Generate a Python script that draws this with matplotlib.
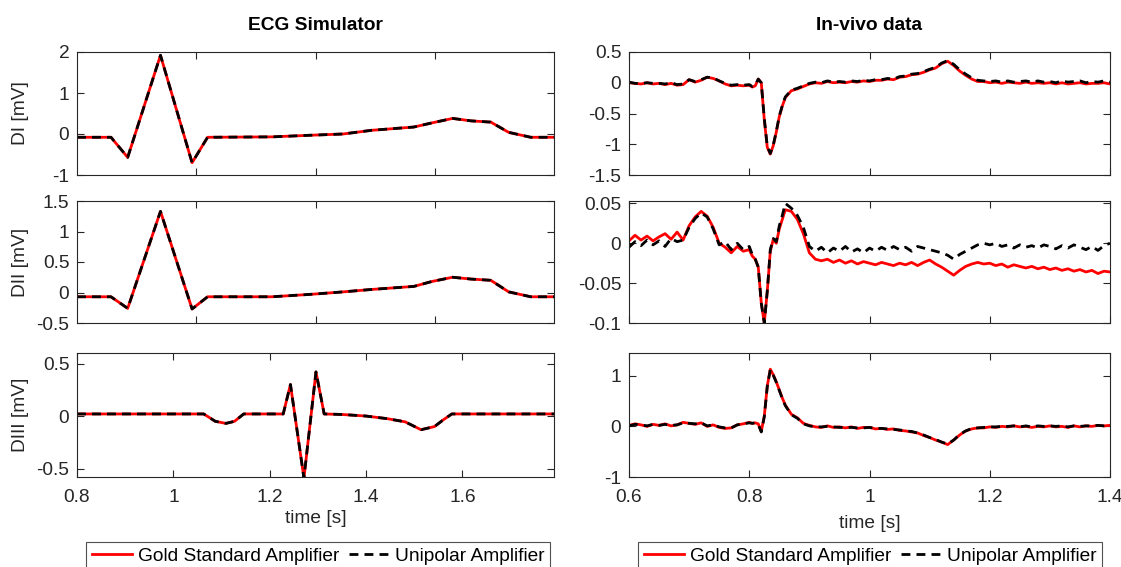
import matplotlib
matplotlib.use('Agg')
import matplotlib.pyplot as plt

plt.rcParams['font.family'] = ['Liberation Sans', 'DejaVu Sans']
plt.rcParams['axes.unicode_minus'] = False

# ---------------- ECG simulator (both amplifiers overlap) ----------------
SIM_T_TOP = [0.600, 0.657, 0.685, 0.740, 0.793, 0.819, 0.927, 0.992, 1.046,
             1.094, 1.165, 1.195, 1.230, 1.261, 1.294, 1.324, 1.361, 1.400]
SIM_DI = [-0.08, -0.08, -0.57, 1.92, -0.70, -0.08, -0.07, -0.03, 0.00,
          0.09, 0.17, 0.27, 0.38, 0.32, 0.29, 0.04, -0.08, -0.08]
SIM_DII = [-0.07, -0.07, -0.26, 1.33, -0.27, -0.07, -0.07, -0.03, 0.01,
           0.05, 0.10, 0.18, 0.25, 0.22, 0.20, 0.01, -0.07, -0.07]
SIM_T_III = [0.800, 1.063, 1.087, 1.109, 1.127, 1.146, 1.228, 1.243, 1.271,
             1.296, 1.313, 1.350, 1.400, 1.444, 1.481, 1.514, 1.542, 1.559,
             1.578, 1.795]
SIM_DIII = [0.02, 0.02, -0.05, -0.07, -0.05, 0.02, 0.02, 0.30, -0.59,
            0.42, 0.02, 0.015, 0.00, -0.025, -0.055, -0.13, -0.10, -0.04,
            0.02, 0.02]

# ---------------- In-vivo data ----------------
T_VIVO = [0.60, 0.61, 0.62, 0.63, 0.64, 0.65, 0.66, 0.67, 0.68, 0.69,
          0.70, 0.71, 0.72, 0.73, 0.74, 0.75, 0.76, 0.77, 0.78, 0.79, 0.80,
          0.805, 0.81, 0.815, 0.82, 0.825, 0.83, 0.835, 0.84, 0.845, 0.85, 0.855, 0.86,
          0.87, 0.88, 0.89, 0.90, 0.91, 0.92, 0.93, 0.94, 0.95, 0.96,
          0.97, 0.98, 0.99, 1.00, 1.01, 1.02, 1.03, 1.04, 1.05, 1.06,
          1.07, 1.08, 1.09, 1.10, 1.11, 1.12, 1.13, 1.14, 1.15, 1.16,
          1.17, 1.18, 1.19, 1.20, 1.21, 1.22, 1.23, 1.24, 1.25, 1.26,
          1.27, 1.28, 1.29, 1.30, 1.31, 1.32, 1.33, 1.34, 1.35, 1.36,
          1.37, 1.38, 1.39, 1.40]

VIVO_DI_GOLD = [0.00, -0.01, -0.02, 0.00, -0.02, -0.01, -0.03, -0.01, -0.04, -0.03,
                0.05, 0.01, 0.04, 0.09, 0.07, 0.03, -0.02, -0.05, -0.04, -0.05, -0.04,
                -0.07, -0.05, 0.06, 0.00, -0.60, -1.05, -1.16, -1.02, -0.80, -0.55, -0.38, -0.24,
                -0.13, -0.10, -0.06, -0.02, 0.00, -0.01, 0.02, 0.00, 0.01, 0.00,
                0.02, 0.01, 0.03, 0.02, 0.04, 0.04, 0.06, 0.05, 0.09, 0.10,
                0.13, 0.14, 0.17, 0.21, 0.24, 0.31, 0.35, 0.28, 0.19, 0.12,
                0.06, 0.02, 0.02, 0.00, 0.01, -0.01, 0.01, 0.00, -0.01, 0.01,
                -0.01, 0.00, -0.01, 0.00, -0.02, 0.00, -0.02, -0.01, 0.00, -0.02,
                -0.01, -0.01, 0.00, -0.02]
VIVO_DI_UNI = [0.01, -0.01, -0.01, 0.00, -0.01, -0.01, -0.02, 0.00, -0.03, -0.02,
               0.05, 0.02, 0.05, 0.09, 0.08, 0.03, -0.01, -0.04, -0.03, -0.04, -0.03,
               -0.06, -0.04, 0.06, 0.00, -0.58, -1.04, -1.15, -1.01, -0.79, -0.54, -0.37, -0.23,
               -0.12, -0.09, -0.05, -0.01, 0.01, 0.00, 0.03, 0.01, 0.02, 0.01,
               0.03, 0.02, 0.04, 0.03, 0.05, 0.05, 0.07, 0.06, 0.10, 0.11,
               0.14, 0.15, 0.18, 0.22, 0.25, 0.32, 0.36, 0.30, 0.21, 0.14,
               0.08, 0.04, 0.03, 0.02, 0.03, 0.01, 0.03, 0.01, 0.02, 0.03,
               0.01, 0.03, 0.01, 0.02, 0.00, 0.03, 0.01, 0.02, 0.03, 0.00,
               0.02, 0.01, 0.03, 0.01]

VIVO_DII_GOLD = [0.003, 0.010, 0.004, 0.009, 0.003, 0.008, 0.012, 0.005, 0.014, 0.004,
                 0.022, 0.033, 0.040, 0.034, 0.020, 0.000, -0.005, -0.012, -0.004, -0.010, -0.008,
                 -0.016, -0.020, -0.030, -0.075, -0.100, -0.060, -0.010, 0.005, 0.000, 0.018, 0.030, 0.042,
                 0.040, 0.030, 0.012, -0.012, -0.020, -0.022, -0.020, -0.024, -0.021, -0.025,
                 -0.022, -0.026, -0.023, -0.025, -0.027, -0.024, -0.026, -0.028, -0.025, -0.027,
                 -0.024, -0.028, -0.024, -0.021, -0.026, -0.030, -0.035, -0.040, -0.034, -0.029,
                 -0.026, -0.024, -0.026, -0.025, -0.028, -0.026, -0.030, -0.027, -0.029, -0.031,
                 -0.029, -0.032, -0.030, -0.033, -0.031, -0.034, -0.032, -0.035, -0.033, -0.036,
                 -0.034, -0.038, -0.035, -0.036]
VIVO_DII_UNI = [-0.005, 0.002, -0.003, 0.004, -0.002, 0.003, -0.004, 0.006, 0.002, 0.004,
                0.020, 0.031, 0.038, 0.033, 0.018, -0.002, 0.002, -0.008, 0.000, -0.008, -0.004,
                -0.014, -0.020, -0.030, -0.075, -0.100, -0.060, -0.008, 0.006, 0.002, 0.022, 0.035, 0.050,
                0.044, 0.035, 0.020, -0.004, -0.010, -0.005, -0.012, -0.006, -0.010, -0.004,
                -0.011, -0.007, -0.012, -0.006, -0.010, -0.005, -0.009, -0.004, -0.008, -0.005,
                -0.010, -0.004, -0.006, -0.008, -0.010, -0.012, -0.015, -0.020, -0.014, -0.010,
                -0.006, -0.002, 0.000, -0.002, 0.000, -0.004, -0.002, -0.006, -0.002, -0.005,
                -0.003, -0.006, -0.002, -0.004, -0.007, -0.003, -0.006, -0.002, -0.005, -0.008,
                -0.004, -0.009, -0.003, 0.000]

VIVO_DIII_GOLD = [0.02, 0.05, 0.03, 0.00, 0.04, 0.02, 0.05, 0.01, 0.03, 0.08,
                  0.06, 0.04, 0.07, 0.00, 0.03, -0.02, -0.04, -0.03, 0.03, 0.05, 0.08,
                  0.06, 0.07, 0.05, -0.10, 0.20, 0.80, 1.13, 1.02, 0.88, 0.72, 0.56, 0.42,
                  0.24, 0.17, 0.06, 0.02, -0.01, -0.02, 0.01, -0.02, -0.01, -0.03,
                  -0.01, -0.04, -0.02, -0.02, -0.05, -0.04, -0.06, -0.05, -0.08, -0.09,
                  -0.11, -0.13, -0.18, -0.22, -0.27, -0.31, -0.36, -0.27, -0.17, -0.09,
                  -0.05, -0.03, -0.03, -0.01, -0.02, 0.00, -0.01, 0.01, -0.01, 0.00,
                  -0.02, 0.00, -0.01, 0.01, -0.01, 0.00, -0.02, 0.01, -0.01, 0.01,
                  0.00, 0.02, 0.01, 0.02]
VIVO_DIII_UNI = [0.01, 0.04, 0.03, 0.01, 0.04, 0.02, 0.04, 0.02, 0.03, 0.07,
                 0.06, 0.05, 0.07, 0.01, 0.03, -0.01, -0.03, -0.03, 0.03, 0.05, 0.07,
                 0.06, 0.07, 0.04, -0.11, 0.19, 0.79, 1.12, 1.01, 0.87, 0.71, 0.55, 0.41,
                 0.23, 0.16, 0.05, 0.01, -0.01, -0.01, 0.00, -0.01, -0.02, -0.02,
                 -0.02, -0.03, -0.03, -0.02, -0.04, -0.04, -0.05, -0.06, -0.07, -0.09,
                 -0.10, -0.13, -0.17, -0.22, -0.26, -0.31, -0.35, -0.27, -0.16, -0.09,
                 -0.04, -0.03, -0.02, -0.01, -0.01, 0.00, 0.00, 0.01, -0.01, 0.01,
                 -0.01, 0.01, 0.00, 0.01, 0.00, 0.01, -0.01, 0.01, 0.00, 0.01,
                 0.01, 0.02, 0.01, 0.02]

LEFT_YLABELS = ['DI [mV]', 'DII [mV]', 'DIII [mV]']
LEGEND_LABELS = ['Gold Standard Amplifier', 'Unipolar Amplifier']

# ---------------- figure ----------------
W, H = 1121, 567
fig = plt.figure(figsize=(W / 100, H / 100), dpi=100)
FS = 13.8
AXC = '#262626'

cols = [(77, 554), (629, 1110)]
rows = [(52, 175), (201, 323), (353, 477)]


def make_ax(c, r):
    x0, x1 = cols[c]
    y0, y1 = rows[r]
    ax = fig.add_axes([x0 / W, 1 - y1 / H, (x1 - x0) / W, (y1 - y0) / H])
    for s in ax.spines.values():
        s.set_color(AXC)
        s.set_linewidth(0.8)
    ax.tick_params(direction='in', top=True, right=True, length=5, width=0.8,
                   colors=AXC, labelsize=FS, labelcolor=AXC)
    ax.tick_params(axis='y', pad=5.5)
    ax.tick_params(axis='x', pad=8.5)
    return ax


def draw(ax, t, gold, uni):
    l1, = ax.plot(t, gold, color='red', lw=2.0, solid_joinstyle='round')
    l2, = ax.plot(t, uni, color='black', lw=2.0, linestyle=(0, (3.2, 2.2)))
    return l1, l2


def fmt(v):
    return '%g' % v


# left column
sim_t = [SIM_T_TOP, SIM_T_TOP, SIM_T_III]
sim_y = [SIM_DI, SIM_DII, SIM_DIII]
left_ylim = [(-1, 2), (-0.5, 1.5), (-0.58, 0.6)]
left_yt = [[-1, 0, 1, 2], [-0.5, 0, 0.5, 1, 1.5], [-0.5, 0, 0.5]]
for r in range(3):
    ax = make_ax(0, r)
    h = draw(ax, sim_t[r], sim_y[r], sim_y[r])
    ax.set_ylim(*left_ylim[r])
    ax.set_yticks(left_yt[r])
    ax.set_yticklabels([fmt(v) for v in left_yt[r]])
    ax.set_ylabel(LEFT_YLABELS[r], fontsize=FS, color=AXC)
    ax.yaxis.set_label_coords(-0.1, 0.5)
    if r < 2:
        ax.set_xlim(0.6, 1.4)
        ax.set_xticks([0.8, 1.0, 1.2])
        ax.set_xticklabels([])
    else:
        ax.set_xlim(0.8, 1.79)
        xt = [0.8, 1.0, 1.2, 1.4, 1.6]
        ax.set_xticks(xt)
        ax.set_xticklabels([fmt(v) for v in xt])
        ax.set_xlabel('time [s]', fontsize=FS, color=AXC)
        ax.xaxis.set_label_coords(0.5, -0.27)
        left_handles = h

# right column
viv_g = [VIVO_DI_GOLD, VIVO_DII_GOLD, VIVO_DIII_GOLD]
viv_u = [VIVO_DI_UNI, VIVO_DII_UNI, VIVO_DIII_UNI]
right_ylim = [(-1.5, 0.5), (-0.1, 0.053), (-1, 1.45)]
right_yt = [[-1.5, -1, -0.5, 0, 0.5], [-0.1, -0.05, 0, 0.05], [-1, 0, 1]]
for r in range(3):
    ax = make_ax(1, r)
    h = draw(ax, T_VIVO, viv_g[r], viv_u[r])
    ax.set_ylim(*right_ylim[r])
    ax.set_yticks(right_yt[r])
    ax.set_yticklabels([fmt(v) for v in right_yt[r]])
    ax.set_xlim(0.6, 1.4)
    xt = [0.6, 0.8, 1.0, 1.2, 1.4]
    ax.set_xticks(xt)
    if r < 2:
        ax.set_xticklabels([])
    else:
        ax.set_xticklabels([fmt(v) for v in xt])
        ax.set_xlabel('time [s]', fontsize=FS, color=AXC)
        ax.xaxis.set_label_coords(0.5, -0.31)
        right_handles = h

fig.text(315 / W, 1 - 25 / H, 'ECG Simulator', ha='center', va='center',
         fontsize=FS, fontweight='bold', color='black')
fig.text(869.5 / W, 1 - 25 / H, 'In-vivo data', ha='center', va='center',
         fontsize=FS, fontweight='bold', color='black')

for handles, cx in [(left_handles, 318), (right_handles, 870)]:
    leg = fig.legend(handles, LEGEND_LABELS, loc='upper center',
                     bbox_to_anchor=(cx / W, 1 - 542 / H), ncol=2,
                     fontsize=FS, frameon=True, fancybox=False,
                     handlelength=2.1, handletextpad=0.3, columnspacing=0.5,
                     borderpad=0.3, borderaxespad=0)
    leg.get_frame().set_edgecolor(AXC)
    leg.get_frame().set_linewidth(0.8)
    for t in leg.get_texts():
        t.set_color('black')

fig.savefig('out.png', dpi=100)
